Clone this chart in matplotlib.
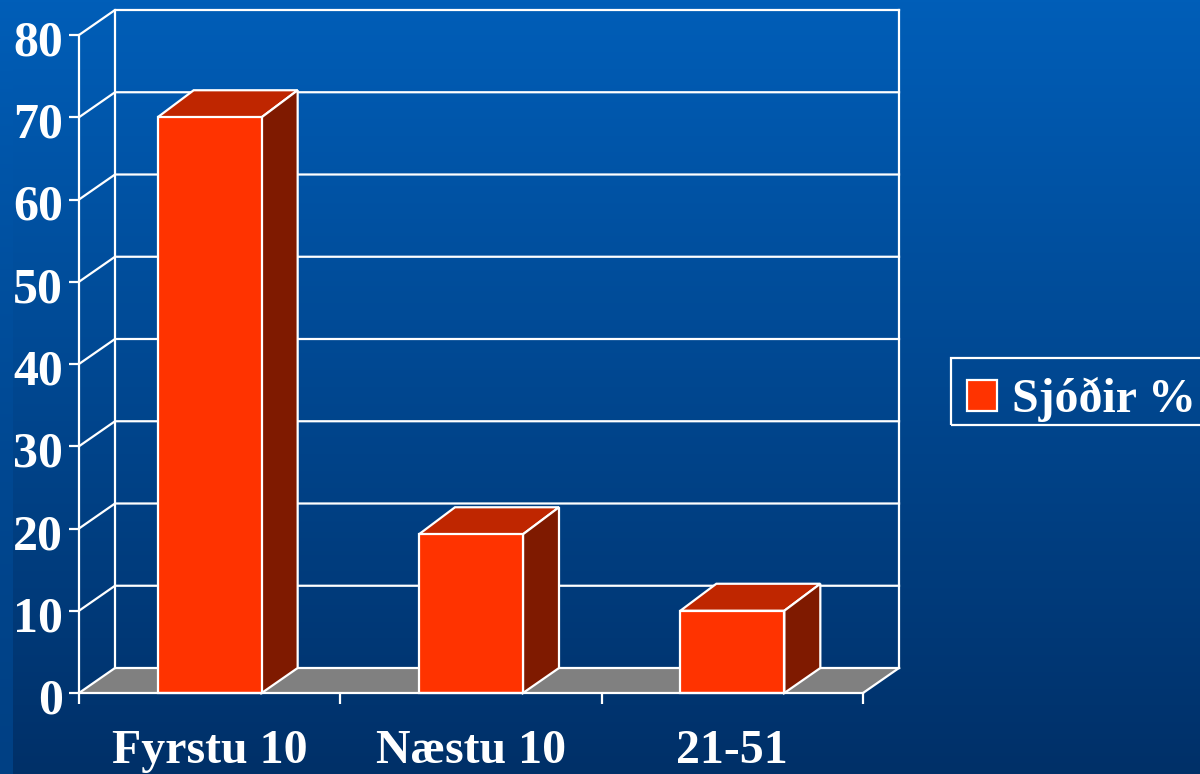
import matplotlib
matplotlib.use("Agg")
import matplotlib.pyplot as plt
import numpy as np
from matplotlib.patches import Polygon, Rectangle
from matplotlib.transforms import ScaledTranslation

categories = ["Fyrstu 10", "Næstu 10", "21-51"]
values = [70, 19.3, 10]
y_ticks = [0, 10, 20, 30, 40, 50, 60, 70, 80]
series_name = "Sjóðir %"

W, H = 1200, 774
FRONT = "#FF3300"
TOP = "#BF2600"
SIDE = "#7F1A00"
FLOOR = "#808080"
LW = 1.6

plt.rcParams["font.family"] = ["Liberation Serif", "DejaVu Serif"]
plt.rcParams["font.weight"] = "bold"

fig = plt.figure(figsize=(W / 100, H / 100), dpi=100)

# background gradient, with the slightly lighter strip on the left edge
bg = fig.add_axes([0, 0, 1, 1], zorder=0)
bg.axis("off")
grad = np.linspace(0, 1, 256)
c_top = np.array([0, 94, 184]) / 255
c_bot = np.array([0, 48, 104]) / 255
img = np.zeros((256, W, 3))
for i, t in enumerate(grad):
    img[i, :, :] = c_top * (1 - t) + c_bot * t
    img[i, :13, :] = img[i, 0, :] * (1 - 0.35 * t) + c_top * 0.35 * t
bg.imshow(img, aspect="auto", interpolation="bilinear")

# axes cover the front plane of the chart
ax = fig.add_axes([79 / W, 1 - 693 / H, 784 / W, 658 / H], zorder=1)
ax.patch.set_alpha(0)
ax.set_xlim(0, 3)
ax.set_ylim(0, 80)

# depth of the fake 3d, in data units
dx = 36 / (784 / 3)
dy = 25 / (658 / 80)
bar_dy = 27 / (658 / 80)
bar_w = 104 / (784 / 3)

floor = [(0, 0), (dx, dy), (3 + dx, dy), (3, 0)]
ax.add_patch(Polygon(floor, closed=True, fc=FLOOR, ec="none", clip_on=False, zorder=1))

for v in y_ticks:
    ax.plot([0, dx, 3 + dx], [v, v + dy, v + dy], color="white", lw=LW, clip_on=False, zorder=2)
ax.plot([dx, dx], [dy, 80 + dy], color="white", lw=LW, clip_on=False, zorder=2)
ax.plot([3 + dx, 3 + dx], [dy, 80 + dy], color="white", lw=LW, clip_on=False, zorder=2)
ax.plot([3, 3 + dx], [0, dy], color="white", lw=LW, clip_on=False, zorder=2)

for i, v in enumerate(values):
    x0 = i + 0.5 - bar_w / 2
    x1 = x0 + bar_w
    ax.bar(i + 0.5, v, width=bar_w, color=FRONT, edgecolor="white", linewidth=LW, zorder=4, clip_on=False)
    top = [(x0, v), (x0 + dx, v + bar_dy), (x1 + dx, v + bar_dy), (x1, v)]
    side = [(x1, 0), (x1 + dx, dy), (x1 + dx, v + bar_dy), (x1, v)]
    ax.add_patch(Polygon(top, closed=True, fc=TOP, ec="white", lw=LW, clip_on=False, zorder=3))
    ax.add_patch(Polygon(side, closed=True, fc=SIDE, ec="white", lw=LW, clip_on=False, zorder=3))

for s in ["top", "right"]:
    ax.spines[s].set_visible(False)
for s in ["left", "bottom"]:
    ax.spines[s].set_color("white")
    ax.spines[s].set_linewidth(LW)
    ax.spines[s].set_zorder(5)

ax.set_yticks(y_ticks)
ax.set_yticklabels([str(v) for v in y_ticks], fontsize=36, color="white", fontweight="bold")
ax.set_xticks([0, 1, 2, 3])
ax.set_xticklabels([])
ax.set_xticks([0.5, 1.5, 2.5], minor=True)
ax.set_xticklabels(categories, minor=True, fontsize=34.5, color="white", fontweight="bold")
ax.tick_params(axis="y", colors="white", length=7.5, width=LW, pad=4)
ax.tick_params(axis="x", which="major", colors="white", length=8, width=LW)
ax.tick_params(axis="x", which="minor", length=0, pad=26, colors="white")

# y labels sit a little below their ticks in the original
shift = ScaledTranslation(0, -3 / 100, fig.dpi_scale_trans)
for lab in ax.get_yticklabels():
    lab.set_transform(lab.get_transform() + shift)

# legend box runs off the right edge, so it is placed by hand
fig.add_artist(Rectangle((951 / W, 1 - 424.5 / H), 260 / W, 67 / H, transform=fig.transFigure,
                         fc="none", ec="white", lw=LW))
fig.add_artist(Rectangle((967 / W, 1 - 410.5 / H), 30 / W, 31 / H, transform=fig.transFigure,
                         fc=FRONT, ec="white", lw=LW))
fig.text(1012 / W, 1 - 412 / H, series_name, fontsize=34.5, color="white", fontweight="bold",
         ha="left", va="baseline")

fig.savefig("out.png", dpi=100)
